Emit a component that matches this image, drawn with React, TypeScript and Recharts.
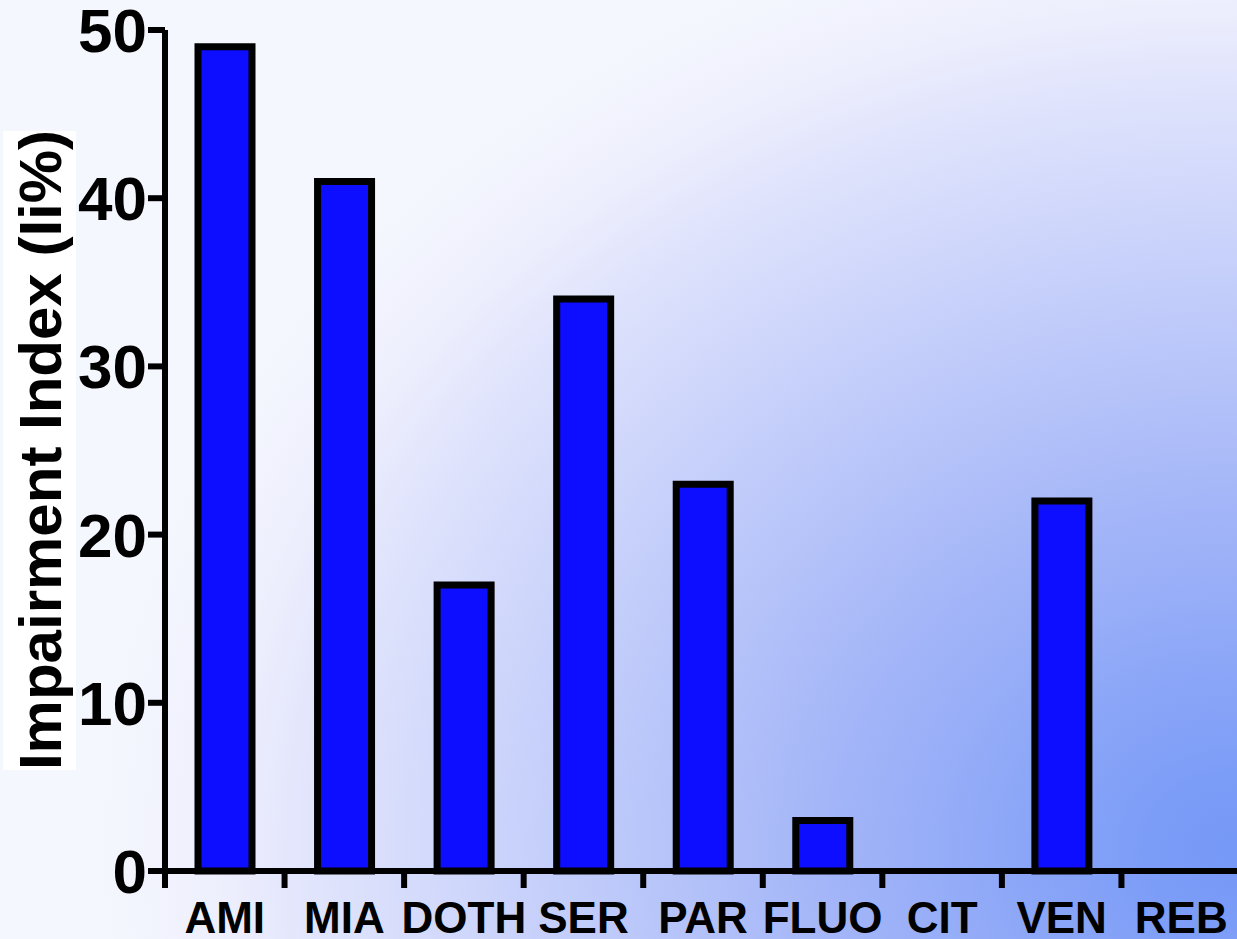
import React from "react";
import { BarChart, Bar, XAxis, YAxis } from "recharts";

const drugs = ["AMI", "MIA", "DOTH", "SER", "PAR", "FLUO", "CIT", "VEN", "REB"];
const impairment = [49, 41, 17, 34, 23, 3, 0, 22, 0];
const yTicks = [0, 10, 20, 30, 40, 50];

const data = drugs.map((name, i) => ({ name, value: impairment[i] }));

const FONT = "'Liberation Sans', Arial, sans-serif";
const W = 1241;
const H = 939;
const LEFT = 165;
const BAND = (W - LEFT) / drugs.length;

function DrugTick(props: any) {
  const { x, y, payload } = props;
  const edge = x - BAND / 2;
  return (
    <g>
      <line x1={edge} x2={edge} y1={y} y2={y + 17} stroke="#000" strokeWidth={6} />
      <text
        x={x}
        y={y + 62}
        textAnchor="middle"
        fontFamily={FONT}
        fontWeight="bold"
        fontSize={44}
        fill="#000"
      >
        {payload.value}
      </text>
    </g>
  );
}

function YLabel() {
  return (
    <g>
      <rect x={3} y={131} width={73} height={639} fill="#fff" />
      <text
        x={61}
        y={450}
        transform="rotate(-90, 61, 450)"
        textAnchor="middle"
        fontFamily={FONT}
        fontWeight="bold"
        fontSize={60}
        fill="#000"
      >
        Impairment Index (Ii%)
      </text>
    </g>
  );
}

export default function App() {
  return (
    <div
      style={{
        position: "absolute",
        left: 0,
        top: 0,
        width: 1237,
        height: 939,
        overflow: "hidden",
        background:
          "radial-gradient(ellipse 1200px 1000px at 1237px 850px, #7698f6 0%, #7b9cf7 7%, #a3b5f8 34%, #dfe3fc 76%, #eeeffd 85%, #f5f7fe 95%)",
      }}
    >
      <BarChart
        width={W}
        height={H}
        data={data}
        margin={{ top: 30, right: 0, bottom: 0, left: 0 }}
        barCategoryGap={0}
      >
        <XAxis
          dataKey="name"
          height={68}
          axisLine={{ stroke: "#000", strokeWidth: 6 }}
          tickLine={false}
          tickSize={0}
          tickMargin={0}
          interval={0}
          tick={<DrugTick />}
        />
        <YAxis
          width={LEFT}
          domain={[0, 50]}
          ticks={yTicks}
          interval={0}
          axisLine={{ stroke: "#000", strokeWidth: 6 }}
          tickLine={{ stroke: "#000", strokeWidth: 6 }}
          tickSize={17}
          tickMargin={1}
          tick={{ fill: "#000", fontSize: 62, fontWeight: "bold", fontFamily: FONT }}
          label={<YLabel />}
        />
        <Bar
          dataKey="value"
          barSize={54}
          fill="#0d0dff"
          stroke="#000"
          strokeWidth={7}
          isAnimationActive={false}
        />
      </BarChart>
    </div>
  );
}
